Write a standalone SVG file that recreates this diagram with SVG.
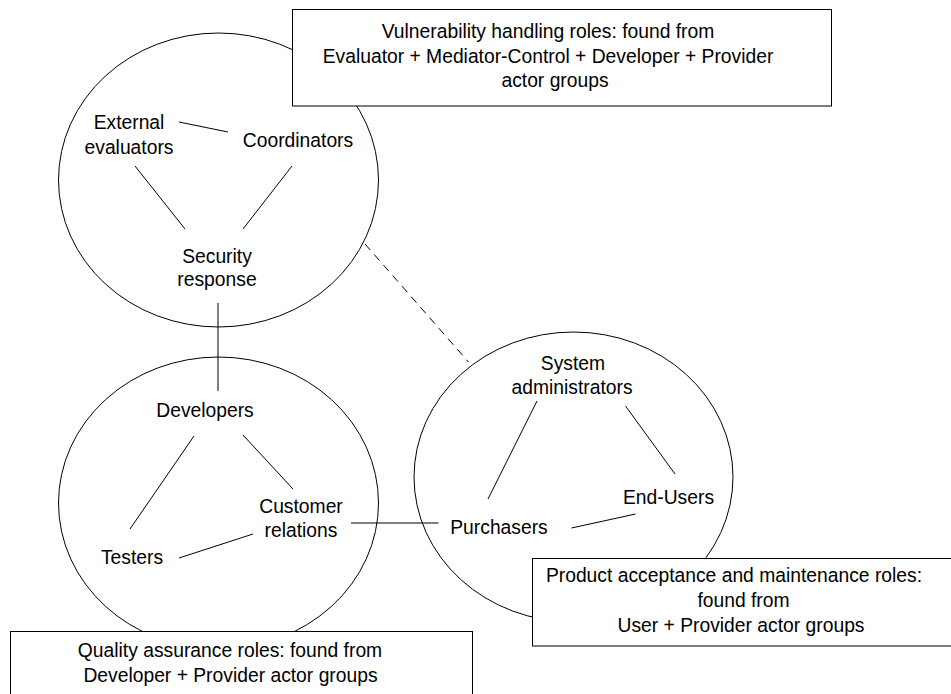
<svg xmlns="http://www.w3.org/2000/svg" width="951" height="694" viewBox="0 0 951 694">
<style>
text{font-family:"Liberation Sans",Arial,sans-serif;font-size:19.3px;fill:#000;text-anchor:middle}
.ell{fill:none;stroke:#000;stroke-width:1}
.box{fill:#fff;stroke:#000;stroke-width:1}
.ln{stroke:#000;stroke-width:1;fill:none}
.dash{stroke-dasharray:8 6}
</style>
<rect width="951" height="694" fill="#fff"/>
<g id="groups">
<ellipse id="vuln-ellipse" class="ell" cx="218.5" cy="180" rx="160" ry="147"/>
<ellipse id="qa-ellipse" class="ell" cx="218.5" cy="503" rx="160" ry="146"/>
<ellipse id="pam-ellipse" class="ell" cx="573.5" cy="477" rx="159.5" ry="145"/>
</g>
<g id="connectors">
<line class="ln" x1="179" y1="122" x2="228" y2="132"/>
<line class="ln" x1="135" y1="166" x2="185" y2="229"/>
<line class="ln" x1="292" y1="166" x2="243" y2="229"/>
<line class="ln" x1="218" y1="303" x2="218" y2="391"/>
<line class="ln dash" x1="365" y1="244" x2="468.5" y2="362"/>
<line class="ln" x1="194" y1="436" x2="130" y2="529"/>
<line class="ln" x1="243" y1="435" x2="293" y2="489"/>
<line class="ln" x1="179" y1="558" x2="253" y2="534"/>
<line class="ln" x1="351" y1="523" x2="438.5" y2="523"/>
<line class="ln" x1="537" y1="401" x2="488" y2="499"/>
<line class="ln" x1="625.5" y1="406" x2="675" y2="474"/>
<line class="ln" x1="571.5" y1="528" x2="635.5" y2="514"/>
</g>
<g id="external-evaluators"><text x="129" y="129">External</text><text x="129" y="154">evaluators</text></g>
<g id="coordinators"><text x="298" y="147">Coordinators</text></g>
<g id="security-response"><text x="217" y="263">Security</text><text x="217" y="286">response</text></g>
<g id="developers"><text x="205" y="417">Developers</text></g>
<g id="customer-relations"><text x="301" y="513">Customer</text><text x="301" y="537">relations</text></g>
<g id="testers"><text x="132" y="564">Testers</text></g>
<g id="system-administrators"><text x="573" y="370">System</text><text x="572" y="394">administrators</text></g>
<g id="end-users"><text x="668.5" y="504">End-Users</text></g>
<g id="purchasers"><text x="499" y="534">Purchasers</text></g>
<g id="vuln-box">
<rect class="box" x="292.5" y="9.5" width="539" height="96.5"/>
<text x="548" y="38">Vulnerability handling roles: found from</text>
<text x="548" y="63">Evaluator + Mediator-Control + Developer + Provider</text>
<text x="555" y="87">actor groups</text>
</g>
<g id="qa-box">
<rect class="box" x="10.5" y="631.5" width="462" height="80"/>
<text x="230" y="657">Quality assurance roles: found from</text>
<text x="230.5" y="682">Developer + Provider actor groups</text>
</g>
<g id="pam-box">
<rect class="box" x="532.5" y="558.5" width="430" height="87.5"/>
<text x="734" y="582">Product acceptance and maintenance roles:</text>
<text x="743.5" y="607">found from</text>
<text x="741" y="632">User + Provider actor groups</text>
</g>
</svg>
